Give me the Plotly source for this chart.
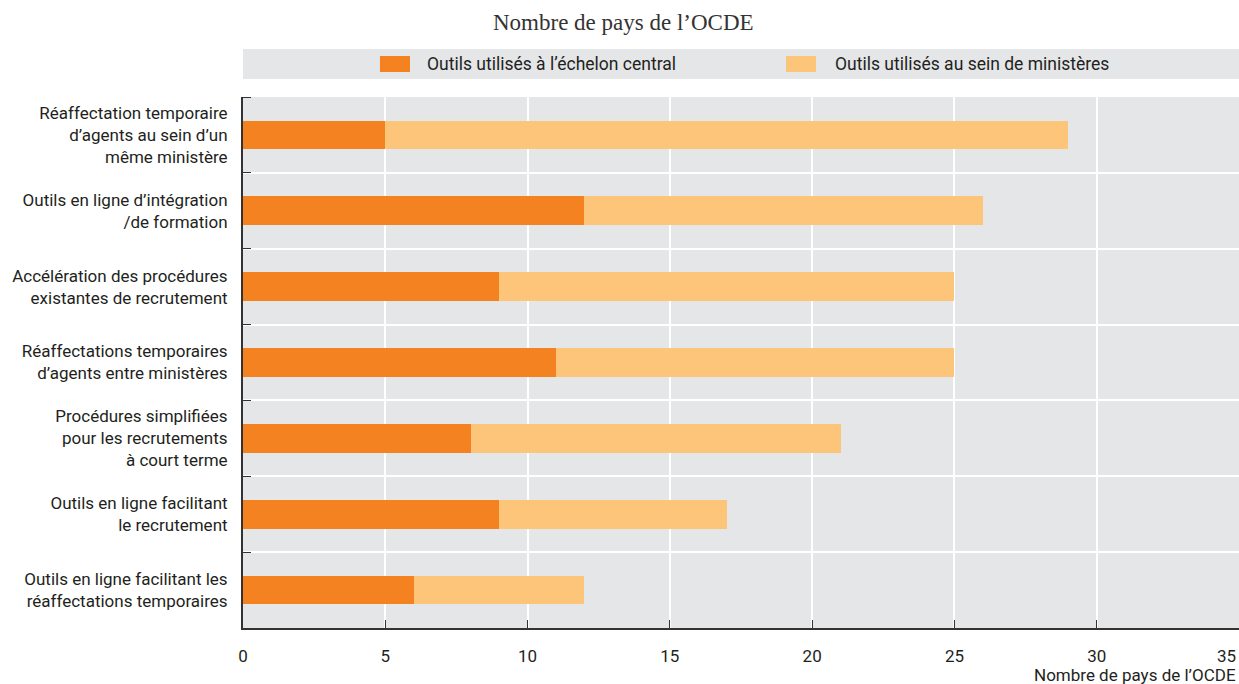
import plotly.graph_objects as go

# Categories listed from top to bottom
categories = [
    "Réaffectation temporaire<br>d’agents au sein d’un<br>même ministère",
    "Outils en ligne d’intégration<br>/de formation",
    "Accélération des procédures<br>existantes de recrutement",
    "Réaffectations temporaires<br>d’agents entre ministères",
    "Procédures simplifiées<br>pour les recrutements<br>à court terme",
    "Outils en ligne facilitant<br>le recrutement",
    "Outils en ligne facilitant les<br>réaffectations temporaires",
]
central = [5, 12, 9, 11, 8, 9, 6]
ministeres = [24, 14, 16, 14, 13, 8, 6]

series_names = ["Outils utilisés à l’échelon central", "Outils utilisés au sein de ministères"]
x_ticks = [0, 5, 10, 15, 20, 25, 30, 35]

ORANGE = "#F58220"
LIGHT = "#FDC57A"
PANEL = "#E5E6E8"
TEXT = "#231F20"
FONT = "Liberation Sans Narrow, Arial Narrow, Roboto, sans-serif"

n = len(categories)
ypos = list(range(n - 1, -1, -1))  # first category on top

# the last tick label sits flush with the right edge, so it is drawn separately
x_ticktext = [str(v) for v in x_ticks[:-1]] + [""]

fig = go.Figure()
fig.add_trace(go.Bar(y=ypos, x=central, orientation="h", name=series_names[0],
                     marker=dict(color=ORANGE, line_width=0), width=0.38, showlegend=False))
fig.add_trace(go.Bar(y=ypos, x=ministeres, orientation="h", name=series_names[1],
                     marker=dict(color=LIGHT, line_width=0), width=0.38, showlegend=False))

fig.update_layout(
    width=1239, height=684,
    margin=dict(l=243, r=0, t=97, b=56, autoexpand=False),
    barmode="stack",
    paper_bgcolor="white",
    plot_bgcolor=PANEL,
    font=dict(family=FONT, size=17, color=TEXT),
)

fig.update_xaxes(
    range=[0, 35], tickvals=x_ticks, ticktext=x_ticktext,
    automargin=False,
    showgrid=True, gridcolor="white", gridwidth=2,
    zeroline=False,
    showline=True, linecolor="#333333", linewidth=2,
    ticks="inside", ticklen=8, tickcolor="#333333", tickwidth=1,
    ticklabelstandoff=12,
    tickfont=dict(family=FONT, size=17, color=TEXT),
)
fig.update_yaxes(
    range=[-0.5, n - 0.5],
    tickvals=ypos, ticktext=categories,
    automargin=False,
    showgrid=False, zeroline=False,
    showline=True, linecolor="#333333", linewidth=2,
    ticks="", ticklabelstandoff=10,
    tickfont=dict(family=FONT, size=17, color=TEXT),
    minor=dict(tick0=0.5, dtick=1, showgrid=True, gridcolor="white", gridwidth=2,
               ticks="inside", ticklen=8, tickcolor="#333333"),
)

# Legend band with swatches
shapes = [
    dict(type="rect", xref="paper", yref="paper", x0=0, x1=1, y0=1.0339, y1=1.0904,
         fillcolor=PANEL, line_width=0, layer="below"),
    dict(type="rect", xref="paper", yref="paper", x0=0.1375, x1=0.1677, y0=1.0471, y1=1.0772,
         fillcolor=ORANGE, line_width=0),
    dict(type="rect", xref="paper", yref="paper", x0=0.5452, x1=0.5753, y0=1.0471, y1=1.0772,
         fillcolor=LIGHT, line_width=0),
]
fig.update_layout(shapes=shapes)

annotations = [
    dict(text=series_names[0], xref="paper", yref="paper", x=0.1827, y=1.0621,
         xanchor="left", yanchor="middle", showarrow=False,
         font=dict(family=FONT, size=17.5, color=TEXT)),
    dict(text=series_names[1], xref="paper", yref="paper", x=0.5924, y=1.0621,
         xanchor="left", yanchor="middle", showarrow=False,
         font=dict(family=FONT, size=17.5, color=TEXT)),
    dict(text="Nombre de pays de l’OCDE", xref="paper", yref="paper", x=0.382, y=1.141,
         xanchor="center", yanchor="middle", showarrow=False,
         font=dict(family="Liberation Serif, DejaVu Serif, serif", size=23, color="#333333")),
    # last x tick label, kept inside the page
    dict(text=str(x_ticks[-1]), xref="paper", yref="paper", x=1, y=0,
         xanchor="right", yanchor="middle", yshift=-28, xshift=-1, showarrow=False,
         font=dict(family=FONT, size=17, color=TEXT)),
    dict(text="Nombre de pays de l’OCDE", xref="paper", yref="paper", x=1, y=0,
         xanchor="right", yanchor="middle", yshift=-47, xshift=-1, showarrow=False,
         font=dict(family=FONT, size=17, color=TEXT)),
]
fig.update_layout(annotations=annotations)

fig.write_html("out.html")
